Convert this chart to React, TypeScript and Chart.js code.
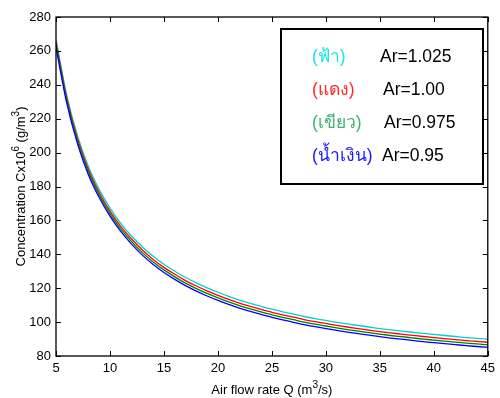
import React, { useEffect, useRef } from 'react';
import { Chart, registerables } from 'chart.js';

Chart.register(...registerables);

const flowRates = [5, 6, 7, 8, 9, 10, 11, 12, 13, 14, 15, 16, 17, 18, 19, 20, 21, 22, 23, 24, 25, 26, 27, 28, 29, 30, 31, 32, 33, 34, 35, 36, 37, 38, 39, 40, 41, 42, 43, 44, 45];

const concCyan = [266.8, 233.8, 209.8, 191.8, 178.3, 167.3, 158.3, 150.8, 144.3, 138.8, 134.1, 130.0, 126.3, 123.1, 120.2, 117.6, 115.2, 113.0, 111.1, 109.3, 107.6, 106.1, 104.7, 103.3, 102.1, 101.0, 99.9, 98.9, 98.0, 97.1, 96.2, 95.4, 94.7, 94.0, 93.3, 92.7, 92.1, 91.5, 90.9, 90.4, 89.9];
const concRed = [265.0, 232.0, 208.0, 190.0, 176.5, 165.5, 156.5, 149.0, 142.5, 137.0, 132.3, 128.2, 124.5, 121.3, 118.4, 115.8, 113.4, 111.2, 109.3, 107.5, 105.8, 104.3, 102.9, 101.5, 100.3, 99.2, 98.1, 97.1, 96.2, 95.3, 94.4, 93.6, 92.9, 92.2, 91.5, 90.9, 90.3, 89.7, 89.1, 88.6, 88.1];
const concGreen = [263.5, 230.5, 206.5, 188.5, 175.0, 164.0, 155.0, 147.5, 141.0, 135.5, 130.8, 126.7, 123.0, 119.8, 116.9, 114.3, 111.9, 109.7, 107.8, 106.0, 104.3, 102.8, 101.4, 100.0, 98.8, 97.7, 96.6, 95.6, 94.7, 93.8, 92.9, 92.1, 91.4, 90.7, 90.0, 89.4, 88.8, 88.2, 87.6, 87.1, 86.6];
const concBlue = [262.0, 229.0, 205.0, 187.0, 173.5, 162.5, 153.5, 146.0, 139.5, 134.0, 129.3, 125.2, 121.5, 118.3, 115.4, 112.8, 110.4, 108.2, 106.3, 104.5, 102.8, 101.3, 99.9, 98.5, 97.3, 96.2, 95.1, 94.1, 93.2, 92.3, 91.4, 90.6, 89.9, 89.2, 88.5, 87.9, 87.3, 86.7, 86.1, 85.6, 85.1];

const seriesValues = [concBlue, concGreen, concRed, concCyan];
const seriesNames = ['(น้ำเงิน)', '(เขียว)', '(แดง)', '(ฟ้า)'];
const seriesLabels = ['Ar=0.95', 'Ar=0.975', 'Ar=1.00', 'Ar=1.025'];
const lineColors = ['#0000ff', '#008000', '#ff0000', '#00d0d0'];
const textColors = ['#1a1aff', '#3cb371', '#ff2a2a', '#19e6e6'];

const xTicks = [5, 10, 15, 20, 25, 30, 35, 40, 45];
const yTicks = [80, 100, 120, 140, 160, 180, 200, 220, 240, 260, 280];

const FONT = "'Liberation Sans', Arial, 'DejaVu Sans', sans-serif";

type Seg = { t: string; sup?: boolean };
const xTitle: Seg[] = [{ t: 'Air flow rate Q (m' }, { t: '3', sup: true }, { t: '/s)' }];
const yTitle: Seg[] = [{ t: 'Concentration Cx10' }, { t: '6', sup: true }, { t: ' (g/m' }, { t: '3', sup: true }, { t: ')' }];

function drawSegs(ctx: CanvasRenderingContext2D, segs: Seg[], cx: number, cy: number, size: number) {
  const supSize = Math.round(size * 0.75);
  let total = 0;
  for (const s of segs) {
    ctx.font = `${s.sup ? supSize : size}px ${FONT}`;
    total += ctx.measureText(s.t).width;
  }
  let x = cx - total / 2;
  ctx.textBaseline = 'alphabetic';
  ctx.textAlign = 'left';
  const base = cy + size * 0.35;
  for (const s of segs) {
    ctx.font = `${s.sup ? supSize : size}px ${FONT}`;
    ctx.fillText(s.t, x, s.sup ? base - size * 0.42 : base);
    x += ctx.measureText(s.t).width;
  }
}

const framePlugin = {
  id: 'matlabFrame',
  afterDatasetsDraw(chart: any) {
    const { ctx, chartArea: a, scales } = chart;
    ctx.save();
    ctx.strokeStyle = '#000';
    ctx.lineWidth = 1.3;
    ctx.strokeRect(a.left, a.top, a.right - a.left, a.bottom - a.top);
    ctx.lineWidth = 1;
    ctx.beginPath();
    const tl = 5;
    for (const v of xTicks) {
      const px = Math.round(scales.x.getPixelForValue(v)) + 0.5;
      ctx.moveTo(px, a.bottom);
      ctx.lineTo(px, a.bottom - tl);
      ctx.moveTo(px, a.top);
      ctx.lineTo(px, a.top + tl);
    }
    for (const v of yTicks) {
      const py = Math.round(scales.y.getPixelForValue(v)) + 0.5;
      ctx.moveTo(a.left, py);
      ctx.lineTo(a.left + tl, py);
      ctx.moveTo(a.right, py);
      ctx.lineTo(a.right - tl, py);
    }
    ctx.stroke();

    // axis titles
    ctx.fillStyle = '#000';
    drawSegs(ctx, xTitle, (a.left + a.right) / 2, 389, 13);
    ctx.save();
    ctx.translate(20, (a.top + a.bottom) / 2);
    ctx.rotate(-Math.PI / 2);
    drawSegs(ctx, yTitle, 0, 0, 13);
    ctx.restore();

    // legend box
    ctx.fillStyle = '#fff';
    ctx.fillRect(281, 29, 202, 155);
    ctx.lineWidth = 2;
    ctx.strokeStyle = '#000';
    ctx.strokeRect(281, 29, 202, 155);
    const rowY = [156, 123.5, 90, 57];
    const labelX = [382, 384, 383, 380];
    ctx.textBaseline = 'middle';
    ctx.textAlign = 'left';
    ctx.font = `17.5px ${FONT}`;
    for (let i = 0; i < seriesNames.length; i++) {
      ctx.fillStyle = textColors[i];
      ctx.fillText(seriesNames[i], 312, rowY[i]);
      ctx.fillStyle = '#000';
      ctx.fillText(seriesLabels[i], labelX[i], rowY[i]);
    }
    ctx.restore();
  },
};

export default function App() {
  const ref = useRef<HTMLCanvasElement>(null);
  useEffect(() => {
    if (!ref.current) return;
    const chart = new Chart(ref.current, {
      type: 'line',
      data: {
        datasets: seriesValues.map((vals, i) => ({
          label: seriesLabels[i],
          data: flowRates.map((q, j) => ({ x: q, y: vals[j] })),
          borderColor: lineColors[i],
          borderWidth: 1.3,
          pointRadius: 0,
          cubicInterpolationMode: 'monotone' as const,
          fill: false,
        })),
      },
      options: {
        responsive: false,
        animation: false,
        layout: { padding: { left: 0, right: 11, top: 17, bottom: 0 } },
        plugins: { legend: { display: false }, tooltip: { enabled: false } },
        scales: {
          x: {
            type: 'linear',
            min: 5,
            max: 45,
            afterBuildTicks: (s: any) => { s.ticks = xTicks.map((v) => ({ value: v })); },
            afterFit: (s: any) => { s.height = 42; },
            grid: { display: false, drawTicks: false },
            border: { display: false },
            ticks: { color: '#000', padding: 5, maxRotation: 0, font: { family: FONT, size: 13 } },
          },
          y: {
            type: 'linear',
            min: 80,
            max: 280,
            afterBuildTicks: (s: any) => { s.ticks = yTicks.map((v) => ({ value: v })); },
            afterFit: (s: any) => { s.width = 56; },
            grid: { display: false, drawTicks: false },
            border: { display: false },
            ticks: { color: '#000', padding: 5, font: { family: FONT, size: 13 } },
          },
        },
      },
      plugins: [framePlugin],
    });
    return () => chart.destroy();
  }, []);
  return (
    <div style={{ position: 'absolute', left: 0, top: 0, width: 500, height: 398, background: '#fff' }}>
      <canvas ref={ref} width={500} height={398} />
    </div>
  );
}
